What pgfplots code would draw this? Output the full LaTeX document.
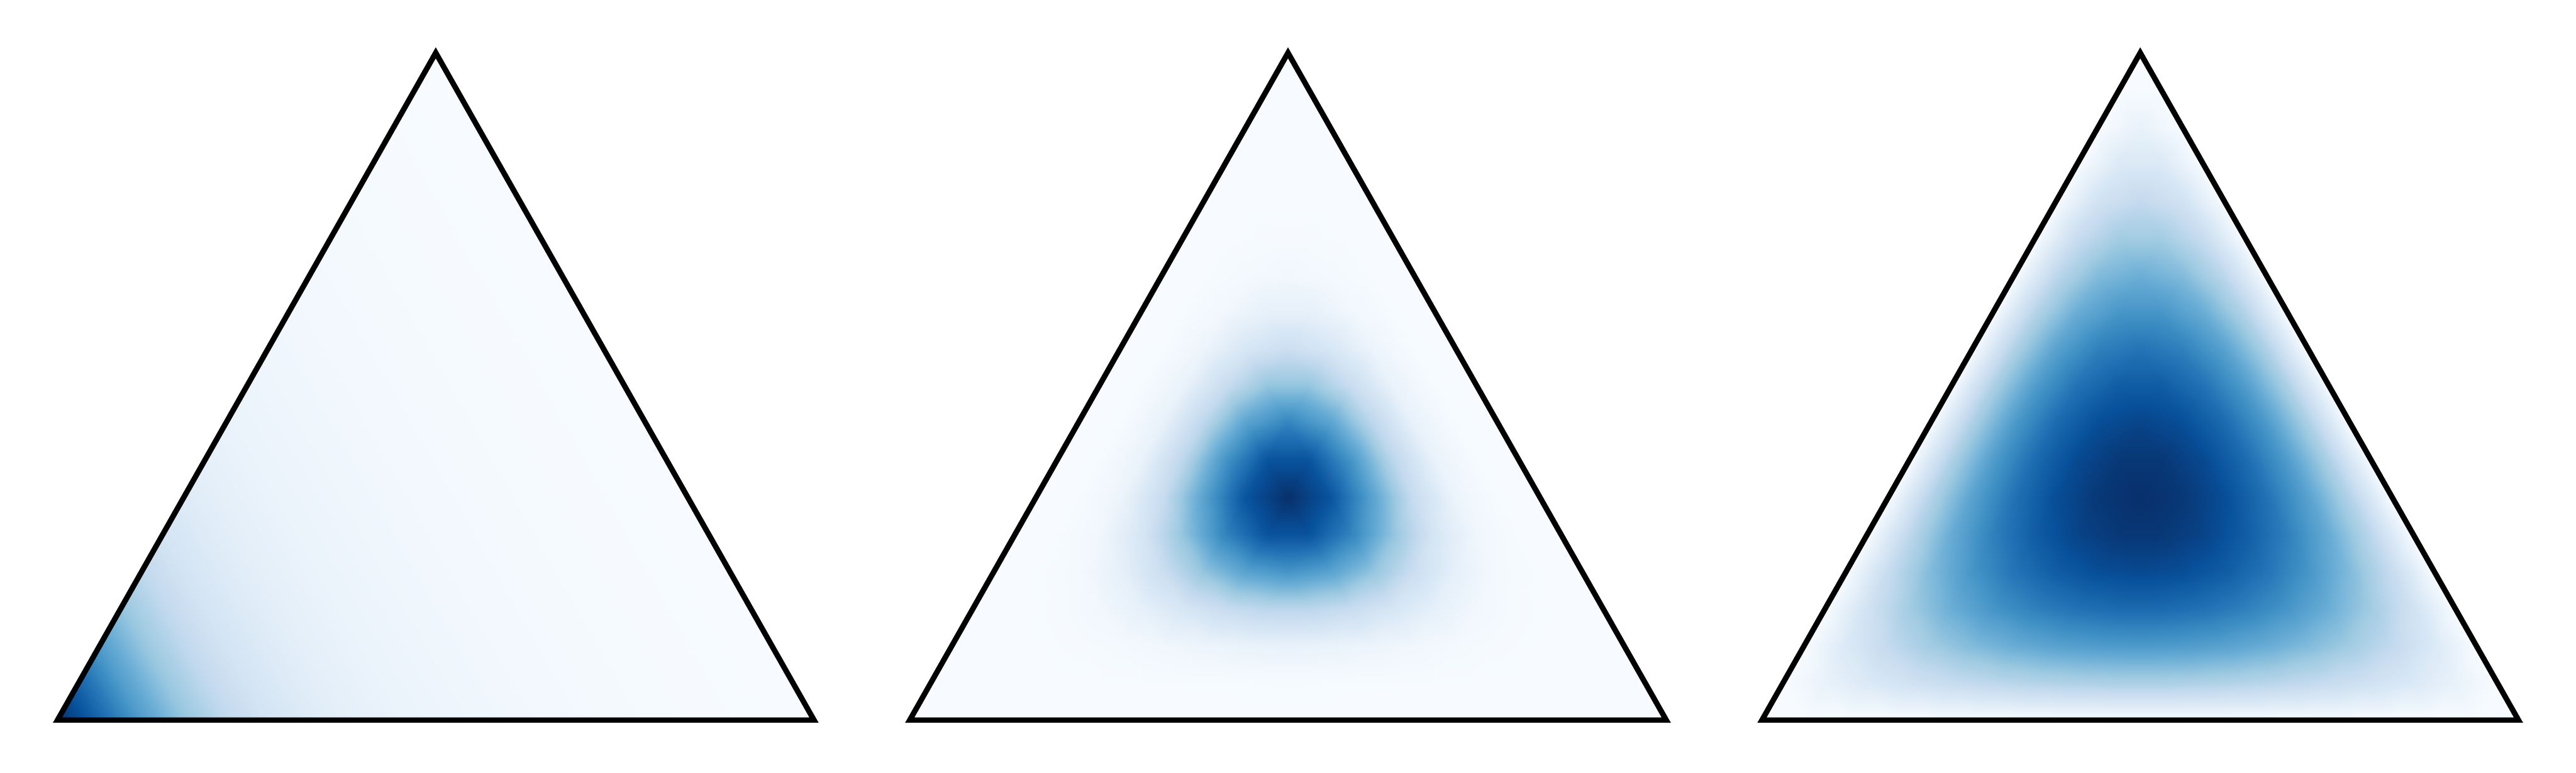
\documentclass[border=0pt]{standalone}
\usepackage{pgfplots}
\usepackage{pgfplotstable}
\pgfplotsset{compat=1.18}
\pgfplotstableread[row sep=\\]{
x y ca cb cc\\
0 0 1 0 0\\ 2 0 0.8 0 0\\ 4 0 0.58 0 0\\ 6 0 0.4 0 0\\ 8 0 0.27 0 0\\ 10 0 0.18 0 0\\ 12 0 0.125 0 0\\ 14 0 0.09 0 0\\ 16 0 0.065 0 0\\ 18 0 0.05 0 0\\ 20 0 0.04 0 0\\ 22 0 0.03 0 0\\ 24 0 0.022 0 0\\ 26 0 0.016 0 0\\ 28 0 0.011 0 0\\ 30 0 0.007 0 0\\ 32 0 0.004 0 0\\ 34 0 0.002 0 0\\ 36 0 0 0 0\\
1 1 0.8 0 0\\ 3 1 0.58 0 0.074\\ 5 1 0.4 0.0001 0.139\\ 7 1 0.27 0.0003 0.194\\ 9 1 0.18 0.0008 0.241\\ 11 1 0.125 0.0017 0.278\\ 13 1 0.09 0.0027 0.306\\ 15 1 0.065 0.0036 0.324\\ 17 1 0.05 0.0041 0.333\\ 19 1 0.04 0.0041 0.333\\ 21 1 0.03 0.0036 0.324\\ 23 1 0.022 0.0027 0.306\\ 25 1 0.016 0.0017 0.278\\ 27 1 0.011 0.0008 0.241\\ 29 1 0.007 0.0003 0.194\\ 31 1 0.004 0.0001 0.139\\ 33 1 0.002 0 0.074\\ 35 1 0 0 0\\
35 1 0 0 0\\
2 2 0.58 0 0\\ 4 2 0.4 0.0001 0.139\\ 6 2 0.27 0.0012 0.259\\ 8 2 0.18 0.0061 0.361\\ 10 2 0.125 0.0173 0.444\\ 12 2 0.09 0.0343 0.509\\ 14 2 0.065 0.0529 0.556\\ 16 2 0.05 0.0675 0.583\\ 18 2 0.04 0.0731 0.593\\ 20 2 0.03 0.0675 0.583\\ 22 2 0.022 0.0529 0.556\\ 24 2 0.016 0.0343 0.509\\ 26 2 0.011 0.0173 0.444\\ 28 2 0.007 0.0061 0.361\\ 30 2 0.004 0.0012 0.259\\ 32 2 0.002 0.0001 0.139\\ 34 2 0 0 0\\
34 2 0 0 0\\ 34 2 0 0 0\\
3 3 0.4 0 0\\ 5 3 0.27 0.0003 0.194\\ 7 3 0.18 0.0061 0.361\\ 9 3 0.125 0.0313 0.5\\ 11 3 0.09 0.0852 0.611\\ 13 3 0.065 0.1615 0.694\\ 15 3 0.05 0.2373 0.75\\ 17 3 0.04 0.2846 0.778\\ 19 3 0.03 0.2846 0.778\\ 21 3 0.022 0.2373 0.75\\ 23 3 0.016 0.1615 0.694\\ 25 3 0.011 0.0852 0.611\\ 27 3 0.007 0.0313 0.5\\ 29 3 0.004 0.0061 0.361\\ 31 3 0.002 0.0003 0.194\\ 33 3 0 0 0\\
33 3 0 0 0\\ 33 3 0 0 0\\ 33 3 0 0 0\\
4 4 0.27 0 0\\ 6 4 0.18 0.0008 0.241\\ 8 4 0.125 0.0173 0.444\\ 10 4 0.09 0.0852 0.611\\ 12 4 0.065 0.223 0.741\\ 14 4 0.05 0.4019 0.833\\ 16 4 0.04 0.5549 0.889\\ 18 4 0.03 0.6152 0.907\\ 20 4 0.022 0.5549 0.889\\ 22 4 0.016 0.4019 0.833\\ 24 4 0.011 0.223 0.741\\ 26 4 0.007 0.0852 0.611\\ 28 4 0.004 0.0173 0.444\\ 30 4 0.002 0.0008 0.241\\ 32 4 0 0 0\\
32 4 0 0 0\\ 32 4 0 0 0\\ 32 4 0 0 0\\ 32 4 0 0 0\\
5 5 0.18 0 0\\ 7 5 0.125 0.0017 0.278\\ 9 5 0.09 0.0343 0.509\\ 11 5 0.065 0.1615 0.694\\ 13 5 0.05 0.4019 0.833\\ 15 5 0.04 0.6806 0.926\\ 17 5 0.03 0.8686 0.972\\ 19 5 0.022 0.8686 0.972\\ 21 5 0.016 0.6806 0.926\\ 23 5 0.011 0.4019 0.833\\ 25 5 0.007 0.1615 0.694\\ 27 5 0.004 0.0343 0.509\\ 29 5 0.002 0.0017 0.278\\ 31 5 0 0 0\\
31 5 0 0 0\\ 31 5 0 0 0\\ 31 5 0 0 0\\ 31 5 0 0 0\\ 31 5 0 0 0\\
6 6 0.125 0 0\\ 8 6 0.09 0.0027 0.306\\ 10 6 0.065 0.0529 0.556\\ 12 6 0.05 0.2373 0.75\\ 14 6 0.04 0.5549 0.889\\ 16 6 0.03 0.8686 0.972\\ 18 6 0.022 1 1\\ 20 6 0.016 0.8686 0.972\\ 22 6 0.011 0.5549 0.889\\ 24 6 0.007 0.2373 0.75\\ 26 6 0.004 0.0529 0.556\\ 28 6 0.002 0.0027 0.306\\ 30 6 0 0 0\\
30 6 0 0 0\\ 30 6 0 0 0\\ 30 6 0 0 0\\ 30 6 0 0 0\\ 30 6 0 0 0\\ 30 6 0 0 0\\
7 7 0.09 0 0\\ 9 7 0.065 0.0036 0.324\\ 11 7 0.05 0.0675 0.583\\ 13 7 0.04 0.2846 0.778\\ 15 7 0.03 0.6152 0.907\\ 17 7 0.022 0.8686 0.972\\ 19 7 0.016 0.8686 0.972\\ 21 7 0.011 0.6152 0.907\\ 23 7 0.007 0.2846 0.778\\ 25 7 0.004 0.0675 0.583\\ 27 7 0.002 0.0036 0.324\\ 29 7 0 0 0\\
29 7 0 0 0\\ 29 7 0 0 0\\ 29 7 0 0 0\\ 29 7 0 0 0\\ 29 7 0 0 0\\ 29 7 0 0 0\\ 29 7 0 0 0\\
8 8 0.065 0 0\\ 10 8 0.05 0.0041 0.333\\ 12 8 0.04 0.0731 0.593\\ 14 8 0.03 0.2846 0.778\\ 16 8 0.022 0.5549 0.889\\ 18 8 0.016 0.6806 0.926\\ 20 8 0.011 0.5549 0.889\\ 22 8 0.007 0.2846 0.778\\ 24 8 0.004 0.0731 0.593\\ 26 8 0.002 0.0041 0.333\\ 28 8 0 0 0\\
28 8 0 0 0\\ 28 8 0 0 0\\ 28 8 0 0 0\\ 28 8 0 0 0\\ 28 8 0 0 0\\ 28 8 0 0 0\\ 28 8 0 0 0\\ 28 8 0 0 0\\
9 9 0.05 0 0\\ 11 9 0.04 0.0041 0.333\\ 13 9 0.03 0.0675 0.583\\ 15 9 0.022 0.2373 0.75\\ 17 9 0.016 0.4019 0.833\\ 19 9 0.011 0.4019 0.833\\ 21 9 0.007 0.2373 0.75\\ 23 9 0.004 0.0675 0.583\\ 25 9 0.002 0.0041 0.333\\ 27 9 0 0 0\\
27 9 0 0 0\\ 27 9 0 0 0\\ 27 9 0 0 0\\ 27 9 0 0 0\\ 27 9 0 0 0\\ 27 9 0 0 0\\ 27 9 0 0 0\\ 27 9 0 0 0\\ 27 9 0 0 0\\
10 10 0.04 0 0\\ 12 10 0.03 0.0036 0.324\\ 14 10 0.022 0.0529 0.556\\ 16 10 0.016 0.1615 0.694\\ 18 10 0.011 0.223 0.741\\ 20 10 0.007 0.1615 0.694\\ 22 10 0.004 0.0529 0.556\\ 24 10 0.002 0.0036 0.324\\ 26 10 0 0 0\\
26 10 0 0 0\\ 26 10 0 0 0\\ 26 10 0 0 0\\ 26 10 0 0 0\\ 26 10 0 0 0\\ 26 10 0 0 0\\ 26 10 0 0 0\\ 26 10 0 0 0\\ 26 10 0 0 0\\ 26 10 0 0 0\\
11 11 0.03 0 0\\ 13 11 0.022 0.0027 0.306\\ 15 11 0.016 0.0343 0.509\\ 17 11 0.011 0.0852 0.611\\ 19 11 0.007 0.0852 0.611\\ 21 11 0.004 0.0343 0.509\\ 23 11 0.002 0.0027 0.306\\ 25 11 0 0 0\\
25 11 0 0 0\\ 25 11 0 0 0\\ 25 11 0 0 0\\ 25 11 0 0 0\\ 25 11 0 0 0\\ 25 11 0 0 0\\ 25 11 0 0 0\\ 25 11 0 0 0\\ 25 11 0 0 0\\ 25 11 0 0 0\\ 25 11 0 0 0\\
12 12 0.022 0 0\\ 14 12 0.016 0.0017 0.278\\ 16 12 0.011 0.0173 0.444\\ 18 12 0.007 0.0313 0.5\\ 20 12 0.004 0.0173 0.444\\ 22 12 0.002 0.0017 0.278\\ 24 12 0 0 0\\
24 12 0 0 0\\ 24 12 0 0 0\\ 24 12 0 0 0\\ 24 12 0 0 0\\ 24 12 0 0 0\\ 24 12 0 0 0\\ 24 12 0 0 0\\ 24 12 0 0 0\\ 24 12 0 0 0\\ 24 12 0 0 0\\ 24 12 0 0 0\\ 24 12 0 0 0\\
13 13 0.016 0 0\\ 15 13 0.011 0.0008 0.241\\ 17 13 0.007 0.0061 0.361\\ 19 13 0.004 0.0061 0.361\\ 21 13 0.002 0.0008 0.241\\ 23 13 0 0 0\\
23 13 0 0 0\\ 23 13 0 0 0\\ 23 13 0 0 0\\ 23 13 0 0 0\\ 23 13 0 0 0\\ 23 13 0 0 0\\ 23 13 0 0 0\\ 23 13 0 0 0\\ 23 13 0 0 0\\ 23 13 0 0 0\\ 23 13 0 0 0\\ 23 13 0 0 0\\ 23 13 0 0 0\\
14 14 0.011 0 0\\ 16 14 0.007 0.0003 0.194\\ 18 14 0.004 0.0012 0.259\\ 20 14 0.002 0.0003 0.194\\ 22 14 0 0 0\\
22 14 0 0 0\\ 22 14 0 0 0\\ 22 14 0 0 0\\ 22 14 0 0 0\\ 22 14 0 0 0\\ 22 14 0 0 0\\ 22 14 0 0 0\\ 22 14 0 0 0\\ 22 14 0 0 0\\ 22 14 0 0 0\\ 22 14 0 0 0\\ 22 14 0 0 0\\ 22 14 0 0 0\\ 22 14 0 0 0\\
15 15 0.007 0 0\\ 17 15 0.004 0.0001 0.139\\ 19 15 0.002 0.0001 0.139\\ 21 15 0 0 0\\
21 15 0 0 0\\ 21 15 0 0 0\\ 21 15 0 0 0\\ 21 15 0 0 0\\ 21 15 0 0 0\\ 21 15 0 0 0\\ 21 15 0 0 0\\ 21 15 0 0 0\\ 21 15 0 0 0\\ 21 15 0 0 0\\ 21 15 0 0 0\\ 21 15 0 0 0\\ 21 15 0 0 0\\ 21 15 0 0 0\\ 21 15 0 0 0\\
16 16 0.004 0 0\\ 18 16 0.002 0 0.074\\ 20 16 0 0 0\\
20 16 0 0 0\\ 20 16 0 0 0\\ 20 16 0 0 0\\ 20 16 0 0 0\\ 20 16 0 0 0\\ 20 16 0 0 0\\ 20 16 0 0 0\\ 20 16 0 0 0\\ 20 16 0 0 0\\ 20 16 0 0 0\\ 20 16 0 0 0\\ 20 16 0 0 0\\ 20 16 0 0 0\\ 20 16 0 0 0\\ 20 16 0 0 0\\ 20 16 0 0 0\\
17 17 0.002 0 0\\ 19 17 0 0 0\\
19 17 0 0 0\\ 19 17 0 0 0\\ 19 17 0 0 0\\ 19 17 0 0 0\\ 19 17 0 0 0\\ 19 17 0 0 0\\ 19 17 0 0 0\\ 19 17 0 0 0\\ 19 17 0 0 0\\ 19 17 0 0 0\\ 19 17 0 0 0\\ 19 17 0 0 0\\ 19 17 0 0 0\\ 19 17 0 0 0\\ 19 17 0 0 0\\ 19 17 0 0 0\\ 19 17 0 0 0\\
18 18 0 0 0\\ 18 18 0 0 0\\ 18 18 0 0 0\\ 18 18 0 0 0\\ 18 18 0 0 0\\ 18 18 0 0 0\\ 18 18 0 0 0\\ 18 18 0 0 0\\ 18 18 0 0 0\\ 18 18 0 0 0\\ 18 18 0 0 0\\ 18 18 0 0 0\\ 18 18 0 0 0\\ 18 18 0 0 0\\ 18 18 0 0 0\\ 18 18 0 0 0\\ 18 18 0 0 0\\ 18 18 0 0 0\\ 18 18 0 0 0\\
}\verts
\pgfplotsset{
  tri/.style={
    scale only axis, width=176.2pt, height=155.4pt,
    xmin=0, xmax=36, ymin=0, ymax=18,
    view={0}{90}, hide axis, clip=false, anchor=south west,
    colormap={blues}{rgb255=(247,251,255) rgb255=(222,235,247) rgb255=(198,219,239) rgb255=(158,202,225) rgb255=(107,174,214) rgb255=(66,146,198) rgb255=(33,113,181) rgb255=(8,81,156) rgb255=(8,48,107)},
    point meta min=0, point meta max=1,
  },
  outline/.style={draw=black, line width=1.27pt, line join=miter, mark=none},
}
\begin{document}
\begin{tikzpicture}
\path[use as bounding box] (0,0) rectangle (600pt,180pt);
\begin{axis}[tri, at={(13.4pt,12.3pt)}]
\addplot3[surf, shader=interp, mesh/rows=19, point meta=explicit] table[x=x, y=y, z=ca, meta=ca] {\verts};
\addplot3[outline] coordinates {(0,0,0) (36,0,0) (18,18,0)} -- cycle;
\end{axis}
\begin{axis}[tri, at={(211.9pt,12.3pt)}]
\addplot3[surf, shader=interp, mesh/rows=19, point meta=explicit] table[x=x, y=y, z=cb, meta=cb] {\verts};
\addplot3[outline] coordinates {(0,0,0) (36,0,0) (18,18,0)} -- cycle;
\end{axis}
\begin{axis}[tri, at={(410.4pt,12.3pt)}]
\addplot3[surf, shader=interp, mesh/rows=19, point meta=explicit] table[x=x, y=y, z=cc, meta=cc] {\verts};
\addplot3[outline] coordinates {(0,0,0) (36,0,0) (18,18,0)} -- cycle;
\end{axis}
\end{tikzpicture}
\end{document}
